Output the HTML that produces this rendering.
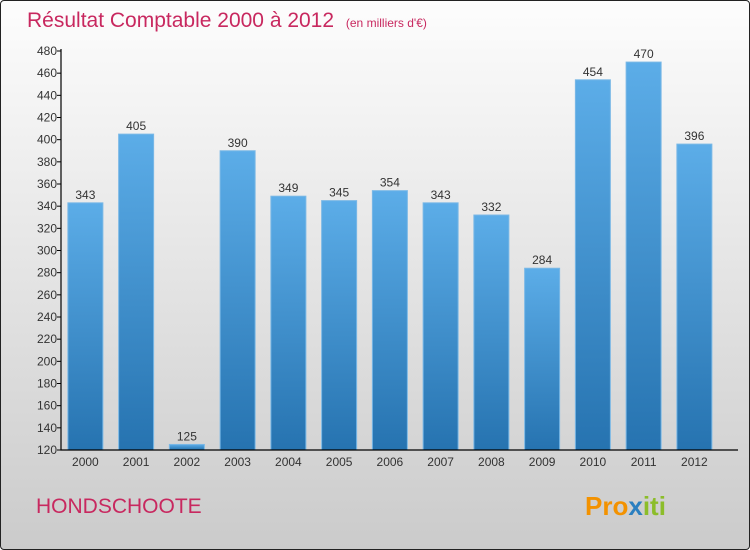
<!DOCTYPE html>
<html><head><meta charset="utf-8"><style>
body{margin:0;width:750px;height:550px;overflow:hidden;font-family:"Liberation Sans",sans-serif}
#c{position:absolute;left:0;top:0;width:748px;height:548px;border:1px solid #222;border-radius:4px;background:linear-gradient(#fdfdfd,#cbcbcb)}
</style></head><body>
<div id="c"></div>
<svg id="s" width="750" height="550" style="position:absolute;left:0;top:0">
<defs><linearGradient id="g" x1="0" y1="0" x2="0" y2="1"><stop offset="0" stop-color="#5cade8"/><stop offset="1" stop-color="#2673b0"/></linearGradient></defs>
<text x="27" y="27" font-size="21" fill="#c8285f">Résultat Comptable 2000 à 2012 <tspan font-size="12" dx="6">(en milliers d'€)</tspan></text>
<text x="36" y="513" font-size="21" fill="#c8285f">HONDSCHOOTE</text>
<text x="585" y="515" font-size="26" font-weight="bold"><tspan fill="#f39200">Pro</tspan><tspan fill="#2a7fc0">x</tspan><tspan fill="#8cbd2a">iti</tspan></text>
</svg>
<script>
const categories=["2000","2001","2002","2003","2004","2005","2006","2007","2008","2009","2010","2011","2012"];
const values=[343,405,125,390,349,345,354,343,332,284,454,470,396];
const ticks=[120,140,160,180,200,220,240,260,280,300,320,340,360,380,400,420,440,460,480];
const s=document.getElementById('s');const NS='http://www.w3.org/2000/svg';
const x0=61,slot=50.75,ymin=120,ymax=480,yTop=51,yBot=450;
const y=v=>yBot-(v-ymin)/(ymax-ymin)*(yBot-yTop);
function mk(t,a,txt){const e=document.createElementNS(NS,t);for(const k in a)e.setAttribute(k,a[k]);if(txt!=null)e.textContent=txt;s.appendChild(e);return e;}
categories.forEach((c,i)=>{const cx=x0+slot*(i+0.5)-1;const v=values[i];
const b=mk('rect',{x:cx-17.5,y:y(v),width:35,height:yBot-y(v),fill:'url(#g)',stroke:'#7ab8e6','stroke-width':1});


const l=mk('text',{x:cx,y:y(v)-4,'text-anchor':'middle','font-size':12,fill:'#333'},String(v));


const t=mk('text',{x:cx,y:466,'text-anchor':'middle','font-size':12,fill:'#333'},c);

});
const ax=mk('path',{d:`M${x0} ${yTop-2}V${yBot}H738`,stroke:'#000','stroke-width':1.2,fill:'none'});


ticks.forEach(v=>{const tk=mk('line',{x1:x0-4,x2:x0,y1:y(v),y2:y(v),stroke:'#000'});


const t=mk('text',{x:x0-4,y:y(v)+4,'text-anchor':'end','font-size':12,fill:'#333'},String(v));

});
</script>
</body></html>
